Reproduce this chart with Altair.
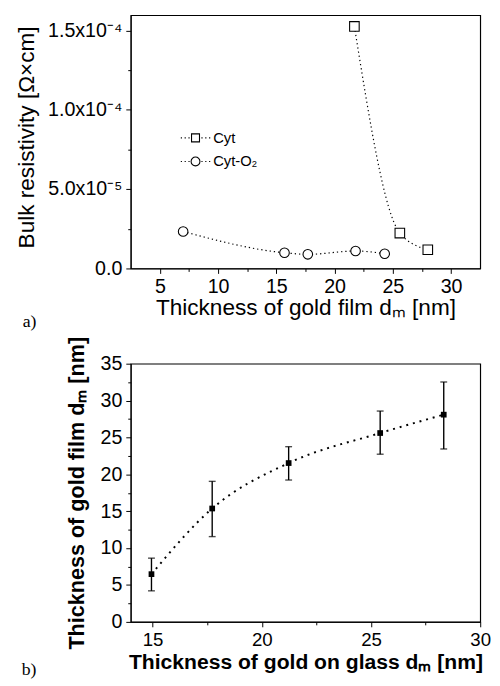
import altair as alt
import pandas as pd

# ---------------- data: panel a ----------------
cyt_x = [21.7, 25.6, 28.0]
cyt_y = [1.525e-4, 2.23e-5, 1.18e-5]
o2_x = [7.0, 15.7, 17.7, 21.8, 24.3]
o2_y = [2.33e-5, 9.9e-6, 8.9e-6, 1.1e-5, 9.3e-6]
series_names = ["Cyt", "Cyt-O\u2082"]

xa_major = [5, 10, 15, 20, 25, 30]
xa_minor = [7.5, 12.5, 17.5, 22.5, 27.5]
ya_major = [0, 5e-5, 1e-4, 1.5e-4]
ya_minor = [2.5e-5, 7.5e-5, 1.25e-4]
ya_labels = ["0.0", "5.0x10\u207b\u2075", "1.0x10\u207b\u2074", "1.5x10\u207b\u2074"]

# ---------------- data: panel b ----------------
b_x = [14.95, 17.73, 21.23, 25.42, 28.33]
b_y = [6.47, 15.37, 21.53, 25.6, 28.09]
b_lo = [4.21, 11.56, 19.23, 22.73, 23.44]
b_hi = [8.64, 19.05, 23.75, 28.58, 32.52]

xb_major = [15, 20, 25, 30]
xb_minor = [17.5, 22.5, 27.5]
yb_major = [0, 5, 10, 15, 20, 25, 30, 35]
yb_minor = [2.5, 7.5, 12.5, 17.5, 22.5, 27.5, 32.5]

FONT = "Liberation Sans"
BLACK = dict(domainColor="black", tickColor="black", labelColor="black", titleColor="black")

df_a = pd.DataFrame({
    "x": cyt_x + o2_x,
    "y": cyt_y + o2_y,
    "series": [series_names[0]] * len(cyt_x) + [series_names[1]] * len(o2_x),
})
df_b = pd.DataFrame({"x": b_x, "y": b_y, "lo": b_lo, "hi": b_hi})


def label_expr(vals, labels):
    expr = "''"
    for v, l in reversed(list(zip(vals, labels))):
        expr = f"datum.value === {float(v)!r} ? '{l}' : ({expr})"
    return expr


def minor_axis(vals, orient):
    return alt.Axis(values=vals, tickSize=3, labels=False, domain=False, grid=False,
                    title=None, orient=orient, tickColor="black", tickWidth=1)


# ---------------- panel a ----------------
xsc_a = alt.Scale(domain=[2.5, 32.5], nice=False, zero=False)
ysc_a = alt.Scale(domain=[0, 1.596e-4], nice=False)

xa = alt.X("x:Q", scale=xsc_a, axis=alt.Axis(
    values=xa_major, tickSize=5, labelOverlap=False, labelFlush=False, orient="bottom",
    grid=False, title="Thickness of gold film d\u2098 [nm]",
    labelFont=FONT, labelFontSize=20, titleFont=FONT, titleFontSize=23,
    titleFontWeight="normal", labelPadding=3, titlePadding=1, **BLACK))
ya = alt.Y("y:Q", scale=ysc_a, axis=alt.Axis(
    values=ya_major, labelExpr=label_expr(ya_major, ya_labels), tickSize=5,
    labelOverlap=False, orient="left",
    grid=False, title="Bulk resistivity [\u03a9\u00d7cm]", titleY=124,
    labelFont=FONT, labelFontSize=20, titleFont=FONT, titleFontSize=23,
    titleFontWeight="normal", labelPadding=4, titlePadding=9, **BLACK))
xa_n = alt.X("x:Q", scale=xsc_a, axis=None)
ya_n = alt.Y("y:Q", scale=ysc_a, axis=None)

base_a = alt.Chart(df_a)
line_a = base_a.mark_line(
    interpolate="monotone", color="black", strokeWidth=1.2, strokeDash=[1.3, 3]
).encode(x=xa, y=ya, detail="series:N")
pts_a = base_a.mark_point(
    filled=False, fill="white", stroke="black", strokeWidth=1.1, size=95, opacity=1
).encode(
    x=xa_n, y=ya_n,
    shape=alt.Shape("series:N", scale=alt.Scale(domain=series_names, range=["square", "circle"]),
                    legend=None),
)
sq_path = ("M-0.27,-0.27H0.27V0.27H-0.27Z "
           "M-1,0h0.08 M-0.74,0h0.08 M-0.48,0h0.08 M0.4,0h0.08 M0.66,0h0.08 M0.92,0h0.08")
ci_path = ("M0.3,0A0.3,0.3 0 1,1 -0.3,0A0.3,0.3 0 1,1 0.3,0Z "
           "M-1,0h0.08 M-0.74,0h0.08 M-0.48,0h0.08 M0.4,0h0.08 M0.66,0h0.08 M0.92,0h0.08")
leg_a = base_a.mark_point(filled=False, stroke="black", opacity=0).encode(
    x=xa_n, y=ya_n,
    shape=alt.Shape(
        "series:N",
        scale=alt.Scale(domain=series_names, range=[sq_path, ci_path]),
        legend=alt.Legend(
            title=None, orient="none", legendX=50, legendY=109, symbolSize=900,
            symbolOpacity=1, symbolStrokeColor="black", symbolStrokeWidth=1.1,
            symbolFillColor="white",
            labelFont=FONT, labelFontSize=15, labelColor="black", labelOffset=2,
            rowPadding=-14,
        ),
    ),
)
minor_a = base_a.mark_point(opacity=0).encode(
    x=alt.X("x:Q", scale=xsc_a, axis=minor_axis(xa_minor, "bottom")),
    y=alt.Y("y:Q", scale=ysc_a, axis=minor_axis(ya_minor, "left")),
)
lab_a = alt.Chart(alt.Data(values=[{}])).mark_text(
    text="a)", font="Liberation Serif", fontSize=18, align="left", baseline="alphabetic",
    color="black",
).encode(x=alt.value(-110), y=alt.value(318))

panel_a = alt.layer(line_a, pts_a, leg_a, minor_a, lab_a).resolve_scale(
    shape="independent").resolve_axis(x="independent", y="independent").properties(
    width=356, height=258)

# ---------------- panel b ----------------
xsc_b = alt.Scale(domain=[14, 30], nice=False, zero=False)
ysc_b = alt.Scale(domain=[0, 35], nice=False)

xb = alt.X("x:Q", scale=xsc_b, axis=alt.Axis(
    values=xb_major, tickSize=5, labelOverlap=False, labelFlush=False, orient="bottom",
    grid=False, title="Thickness of gold on glass d\u2098 [nm]",
    labelFont=FONT, labelFontSize=19, titleFont=FONT, titleFontSize=21.5,
    titleFontWeight="bold", labelPadding=4, titlePadding=2, **BLACK))
yb = alt.Y("y:Q", scale=ysc_b, axis=alt.Axis(
    values=yb_major, tickSize=5, labelOverlap=False, orient="left",
    grid=False, title="Thickness of gold film d\u2098 [nm]",
    labelFont=FONT, labelFontSize=20, titleFont=FONT, titleFontSize=22,
    titleFontWeight="bold", labelPadding=4, titlePadding=12, **BLACK))
xb_n = alt.X("x:Q", scale=xsc_b, axis=None)
yb_n = alt.Y("y:Q", scale=ysc_b, axis=None)

base_b = alt.Chart(df_b)
line_b = base_b.mark_line(
    interpolate="monotone", color="black", strokeWidth=2, strokeDash=[2, 5]
).encode(x=xb, y=yb)
err_b = base_b.mark_rule(color="black", strokeWidth=1.4).encode(
    x=xb_n, y=alt.Y("lo:Q", scale=ysc_b, axis=None), y2="hi:Q")
cap_lo = base_b.mark_tick(color="black", thickness=1.4, size=7, orient="horizontal").encode(
    x=xb_n, y=alt.Y("lo:Q", scale=ysc_b, axis=None))
cap_hi = base_b.mark_tick(color="black", thickness=1.4, size=7, orient="horizontal").encode(
    x=xb_n, y=alt.Y("hi:Q", scale=ysc_b, axis=None))
pts_b = base_b.mark_square(color="black", size=34, opacity=1).encode(x=xb_n, y=yb_n)
minor_b = base_b.mark_point(opacity=0).encode(
    x=alt.X("x:Q", scale=xsc_b, axis=minor_axis(xb_minor, "bottom")),
    y=alt.Y("y:Q", scale=ysc_b, axis=minor_axis(yb_minor, "left")),
)
lab_b = alt.Chart(alt.Data(values=[{}])).mark_text(
    text="b)", font="Liberation Serif", fontSize=18, align="left", baseline="alphabetic",
    color="black",
).encode(x=alt.value(-111), y=alt.value(317))

panel_b = alt.layer(line_b, err_b, cap_lo, cap_hi, pts_b, minor_b, lab_b).resolve_axis(
    x="independent", y="independent").properties(width=356, height=263)

chart = alt.vconcat(panel_a, panel_b, spacing=3).properties(
    padding={"left": 7, "top": 0, "right": 0, "bottom": 0}
).configure_view(stroke="black", strokeWidth=1.2)

chart.save("out.html", embed_options={"renderer": "svg", "actions": False})
